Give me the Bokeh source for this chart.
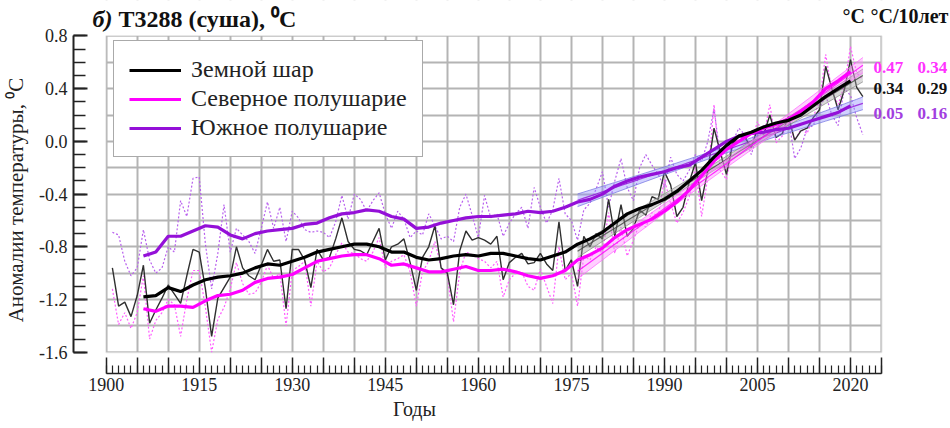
import numpy as np
from bokeh.plotting import figure
from bokeh.models import (SingleIntervalTicker, NumeralTickFormatter, CustomJSTickFormatter,
                          BoxAnnotation, Label, Legend, LegendItem, Range1d)
from bokeh.embed import file_html
from bokeh.resources import INLINE

# ---------------- data ----------------
YEARS = list(range(1901, 2023))

GLOBAL = [-0.96, -1.25, -1.22, -1.33, -1.17, -0.94, -1.38, -1.28, -1.19, -1.09,
          -1.16, -1.23, -1.02, -0.82, -0.84, -1.12, -1.48, -1.19, -1.11, -1.03,
          -0.80, -0.96, -1.02, -1.05, -0.94, -0.82, -0.91, -0.90, -1.27, -0.82,
          -0.82, -0.90, -1.11, -0.82, -0.90, -0.88, -0.74, -0.58, -0.76, -0.82,
          -0.83, -0.86, -0.76, -0.66, -0.90, -0.80, -0.78, -0.74, -0.92, -1.13,
          -0.88, -0.80, -0.64, -0.96, -1.00, -1.24, -0.83, -0.68, -0.75, -0.73,
          -0.75, -0.78, -0.72, -1.05, -0.92, -0.88, -0.85, -0.93, -0.92, -0.85,
          -0.93, -0.98, -0.61, -0.98, -0.90, -1.10, -0.72, -0.80, -0.70, -0.74,
          -0.44, -0.72, -0.48, -0.72, -0.66, -0.52, -0.56, -0.42, -0.44, -0.23,
          -0.33, -0.57, -0.50, -0.31, -0.16, -0.45, -0.22, 0.10, -0.08, -0.25,
          -0.02, 0.04, 0.03, -0.05, 0.10, 0.05, 0.20, 0.03, 0.06, 0.19,
          0.01, 0.08, 0.10, 0.18, 0.24, 0.57, 0.40, 0.24, 0.39, 0.62,
          0.41, 0.34]

NH = [-1.12, -1.39, -1.30, -1.42, -1.30, -1.02, -1.50, -1.36, -1.30, -1.20,
      -1.24, -1.48, -1.20, -0.98, -0.98, -1.26, -1.60, -1.35, -1.26, -1.12,
      -0.92, -1.08, -1.16, -1.15, -1.07, -0.94, -1.04, -1.00, -1.40, -0.98,
      -0.95, -0.91, -1.25, -0.91, -0.99, -0.96, -0.86, -0.77, -0.84, -0.85,
      -0.89, -0.91, -0.84, -0.73, -0.96, -0.91, -0.89, -0.86, -0.99, -1.25,
      -0.99, -0.91, -0.76, -0.96, -1.02, -1.37, -0.99, -0.84, -0.86, -0.89,
      -0.91, -0.96, -0.91, -1.18, -1.05, -1.00, -0.99, -1.10, -1.13, -0.97,
      -1.10, -1.23, -0.80, -1.05, -1.00, -1.25, -0.87, -0.90, -0.80, -0.85,
      -0.54, -0.85, -0.65, -0.87, -0.75, -0.62, -0.65, -0.54, -0.57, -0.29,
      -0.47, -0.62, -0.54, -0.42, -0.19, -0.57, -0.27, 0.28, -0.22, -0.29,
      -0.04, 0.04, 0.01, -0.01, 0.15, 0.04, 0.28, -0.01, 0.04, 0.16,
      0.01, 0.09, 0.06, 0.19, 0.30, 0.66, 0.38, 0.28, 0.42, 0.72,
      0.52, 0.47]

SH = [-0.69, -0.71, -0.91, -1.02, -0.96, -0.67, -0.90, -1.00, -0.96, -0.80,
      -0.84, -0.45, -0.57, -0.28, -0.27, -0.78, -1.12, -0.85, -0.48, -0.84,
      -0.66, -0.71, -0.76, -0.85, -0.66, -0.46, -0.66, -0.50, -0.76, -0.53,
      -0.58, -0.67, -0.69, -0.68, -0.69, -0.73, -0.61, -0.41, -0.59, -0.40,
      -0.44, -0.53, -0.45, -0.39, -0.55, -0.66, -0.53, -0.59, -0.73, -0.68,
      -0.71, -0.55, -0.64, -0.74, -0.72, -0.76, -0.50, -0.40, -0.56, -0.73,
      -0.41, -0.58, -0.55, -0.72, -0.62, -0.55, -0.50, -0.66, -0.35, -0.50,
      -0.62, -0.52, -0.28, -0.55, -0.60, -0.75, -0.52, -0.47, -0.36, -0.23,
      -0.50, -0.30, -0.13, -0.35, -0.45, -0.20, -0.10, -0.18, -0.25, -0.35,
      -0.12, -0.25, -0.30, -0.22, -0.10, -0.15, 0.00, 0.25, -0.12, -0.20,
      0.00, 0.10, 0.05, -0.10, 0.05, 0.12, 0.05, 0.10, 0.15, 0.18,
      -0.13, -0.05, 0.10, 0.12, 0.25, 0.35, 0.20, 0.12, 0.40, 0.35,
      0.18, 0.05]

SMOOTH_YEARS = list(range(1906, 2021, 2))
GLOBAL_SMOOTH = [-1.18, -1.17, -1.11, -1.14, -1.09, -1.05, -1.03, -1.02, -1.00, -0.96,
                 -0.93, -0.94, -0.91, -0.88, -0.84, -0.82, -0.80, -0.78, -0.78, -0.80,
                 -0.84, -0.84, -0.88, -0.90, -0.89, -0.87, -0.86, -0.87, -0.85, -0.85,
                 -0.87, -0.89, -0.90, -0.87, -0.84, -0.78, -0.74, -0.69, -0.62, -0.55,
                 -0.51, -0.48, -0.44, -0.38, -0.30, -0.22, -0.12, -0.03, 0.04, 0.07,
                 0.11, 0.14, 0.16, 0.20, 0.27, 0.34, 0.40, 0.46]
NH_SMOOTH = [-1.27, -1.29, -1.25, -1.25, -1.26, -1.21, -1.17, -1.16, -1.13, -1.07,
             -1.04, -1.03, -1.01, -0.96, -0.91, -0.89, -0.87, -0.86, -0.86, -0.89,
             -0.94, -0.93, -0.96, -0.99, -0.99, -0.97, -0.95, -0.98, -0.98, -0.97,
             -0.99, -1.02, -1.04, -1.02, -0.98, -0.90, -0.86, -0.81, -0.73, -0.67,
             -0.63, -0.59, -0.53, -0.46, -0.37, -0.26, -0.15, -0.06, 0.00, 0.06,
             0.10, 0.13, 0.17, 0.23, 0.30, 0.40, 0.46, 0.53]
SH_SMOOTH = [-0.87, -0.84, -0.72, -0.72, -0.68, -0.64, -0.65, -0.71, -0.74, -0.70,
             -0.68, -0.67, -0.66, -0.63, -0.62, -0.58, -0.55, -0.54, -0.52, -0.53,
             -0.57, -0.59, -0.66, -0.65, -0.62, -0.60, -0.58, -0.57, -0.57, -0.56,
             -0.55, -0.53, -0.54, -0.53, -0.50, -0.46, -0.44, -0.40, -0.34, -0.30,
             -0.27, -0.25, -0.23, -0.20, -0.18, -0.12, -0.06, 0.00, 0.04, 0.06,
             0.07, 0.09, 0.10, 0.13, 0.16, 0.19, 0.22, 0.27]

TREND_START, TREND_END = 1976, 2022
SERIES_NAMES = ["Земной шар", "Северное полушарие", "Южное полушарие"]
TREND_PER_DECADE = {"nh": 0.34, "gl": 0.29, "sh": 0.16}
LAST_VALUE = {"nh": 0.47, "gl": 0.34, "sh": 0.05}

FONT = "Liberation Serif, Times New Roman, serif"
C_GL, C_NH, C_SH = "#000000", "#ff00ff", "#9410d8"
NBSP = "\u00a0"

# data box
BOX_X = (1900, 2025)
BOX_Y = (-1.6, 0.8)

# ---------------- figure geometry ----------------
# frame spans from the y-axis (px 73) to the right edge and from the top edge to the x-axis strip (px 373)
X0, X1 = 1894.73, 2036.124
Y0, Y1 = -1.7617, 1.06945
FL, FT, FW, FH = 73, 0, 877, 373


def dx(px):
    return X0 + (px - FL) * (X1 - X0) / FW


def dy(py):
    return Y1 - (py - FT) * (Y1 - Y0) / FH


p = figure(width=950, height=428, output_backend="svg", toolbar_location=None, title=None,
           x_range=Range1d(X0, X1), y_range=Range1d(Y0, Y1),
           min_border_left=73, min_border_right=0, min_border_top=0, min_border_bottom=55)
p.outline_line_color = None
p.background_fill_color = "white"
p.border_fill_color = "white"

# axes
xa = p.xaxis[0]
xa.ticker = SingleIntervalTicker(interval=5, num_minor_ticks=5)
xa.formatter = CustomJSTickFormatter(
    code="var t = Math.round(tick); return ((t - 1900) % 15 == 0) ? String(t) : '';")
xa.bounds = (BOX_X[0] - 0.01, BOX_X[1] + 0.01)
xa.major_tick_in = 16
xa.major_tick_out = 0
xa.minor_tick_in = 8
xa.minor_tick_out = 0
xa.axis_line_color = "#222222"
xa.axis_line_width = 1.5
xa.major_tick_line_color = "#222222"
xa.major_tick_line_width = 1.5
xa.minor_tick_line_color = "#222222"
xa.minor_tick_line_width = 1.2
xa.major_label_text_font = FONT
xa.major_label_text_font_size = "18px"
xa.major_label_text_color = "#222222"
xa.major_label_standoff = 4
# trailing no-break spaces move the centred label to the left, as in the original
xa.axis_label = "Годы" + NBSP * 39
xa.axis_label_text_font = FONT
xa.axis_label_text_font_size = "20px"
xa.axis_label_text_font_style = "normal"
xa.axis_label_text_color = "#222222"
xa.axis_label_standoff = 4

ya = p.yaxis[0]
ya.ticker = SingleIntervalTicker(interval=0.4, num_minor_ticks=4)
ya.formatter = NumeralTickFormatter(format="0.0")
ya.bounds = (BOX_Y[0] - 0.0001, BOX_Y[1] + 0.0001)
ya.major_tick_in = 14
ya.major_tick_out = 0
ya.minor_tick_in = 12
ya.minor_tick_out = 0
ya.axis_line_color = "#222222"
ya.axis_line_width = 2
ya.major_tick_line_color = "#222222"
ya.major_tick_line_width = 2
ya.minor_tick_line_color = "#222222"
ya.minor_tick_line_width = 1.5
ya.major_label_text_font = FONT
ya.major_label_text_font_size = "18px"
ya.major_label_text_color = "#222222"
ya.major_label_standoff = 6
ya.axis_label = "Аномалии температуры, ⁰C" + NBSP * 5
ya.axis_label_text_font = FONT
ya.axis_label_text_font_size = "21px"
ya.axis_label_text_font_style = "normal"
ya.axis_label_text_color = "#222222"
ya.axis_label_standoff = 8

# grid
p.xgrid.ticker = SingleIntervalTicker(interval=5)
p.ygrid.ticker = SingleIntervalTicker(interval=0.2)
for g in (p.xgrid, p.ygrid):
    g.grid_line_color = "#b4b4b4"
    g.grid_line_width = 2

# white masks over the grid outside the data box, then the grey box
for kw in (dict(right=BOX_X[0]), dict(left=BOX_X[1]), dict(top=BOX_Y[0]), dict(bottom=BOX_Y[1])):
    p.add_layout(BoxAnnotation(fill_color="white", fill_alpha=1, line_alpha=0, level="underlay", **kw))
p.add_layout(BoxAnnotation(left=BOX_X[0], right=BOX_X[1], bottom=BOX_Y[0], top=BOX_Y[1], fill_alpha=0,
                           line_color="#b0b0b0", line_width=2, level="underlay"))

# annual series
p.line(YEARS, SH, line_color="#b860ee", line_width=1.2, line_dash="2 2")
p.line(YEARS, NH, line_color="#ff5cff", line_width=1.2, line_dash="2 2")
p.line(YEARS, GLOBAL, line_color="#303030", line_width=1.4)


# linear trends with uncertainty bands
def trend(vals, slope_dec):
    yrs = np.arange(TREND_START, TREND_END + 1)
    v = np.array(vals)[yrs - YEARS[0]]
    ym, vm = yrs.mean(), v.mean()
    fit = vm + slope_dec / 10.0 * (yrs - ym)
    resid = v - fit
    se = np.sqrt((resid ** 2).sum() / (len(yrs) - 2))
    sxx = ((yrs - ym) ** 2).sum()
    hw = 1.3 * se * np.sqrt(1.0 / len(yrs) + (yrs - ym) ** 2 / sxx)
    return yrs, fit, hw


for vals, key, fill, edge, line in [
    (SH, "sh", "#8c8cff", "#7070e0", C_SH),
    (GLOBAL, "gl", "#a0a0a0", "#888888", "#444444"),
    (NH, "nh", "#ff88ff", "#ff66ff", C_NH),
]:
    yrs, fit, hw = trend(vals, TREND_PER_DECADE[key])
    p.varea(x=yrs, y1=fit - hw, y2=fit + hw, fill_color=fill, fill_alpha=0.4)
    p.line(yrs, fit - hw, line_color=edge, line_width=1, line_alpha=0.7)
    p.line(yrs, fit + hw, line_color=edge, line_width=1, line_alpha=0.7)
    p.line(yrs, fit, line_color=line, line_width=1.2, line_alpha=0.8)

# smoothed series
r_sh = p.line(SMOOTH_YEARS, SH_SMOOTH, line_color=C_SH, line_width=3.2)
r_nh = p.line(SMOOTH_YEARS, NH_SMOOTH, line_color=C_NH, line_width=3.2)
r_gl = p.line(SMOOTH_YEARS, GLOBAL_SMOOTH, line_color=C_GL, line_width=3.2)

legend = Legend(items=[LegendItem(label=SERIES_NAMES[0], renderers=[r_gl]),
                       LegendItem(label=SERIES_NAMES[1], renderers=[r_nh]),
                       LegendItem(label=SERIES_NAMES[2], renderers=[r_sh])],
                location=(40, 216), margin=0, padding=15, spacing=2,
                glyph_width=52, glyph_height=20, label_standoff=10, label_height=20,
                label_text_font=FONT, label_text_font_size="24px", label_text_color="#222222",
                border_line_color="#555555", border_line_width=1.5,
                background_fill_color="white", background_fill_alpha=1)
p.add_layout(legend)


def lab(px, py, text, color="#111111", size="18px", style="bold"):
    p.add_layout(Label(x=dx(px), y=dy(py), text=text, text_color=color, text_font=FONT,
                       text_font_size=size, text_font_style=style, text_baseline="middle",
                       text_align="left"))


# titles
lab(92, 18, "б)", size="24px", style="bold italic")
lab(118, 18, "Т3288 (суша), ⁰C", size="24px")
lab(842, 15, "°C", size="20px")
lab(870, 15, "°C/10лет", size="20px")

# end values and trends
for key, color, py in [("nh", "#ff33ff", 66.7), ("gl", "#111111", 88.3), ("sh", "#a23ee0", 113.3)]:
    lab(873, py, f"{LAST_VALUE[key]:.2f}", color=color, size="17px")
    lab(917, py, f"{TREND_PER_DECADE[key]:.2f}", color=color, size="17px")

open("out.html", "w").write(file_html(p, INLINE))
